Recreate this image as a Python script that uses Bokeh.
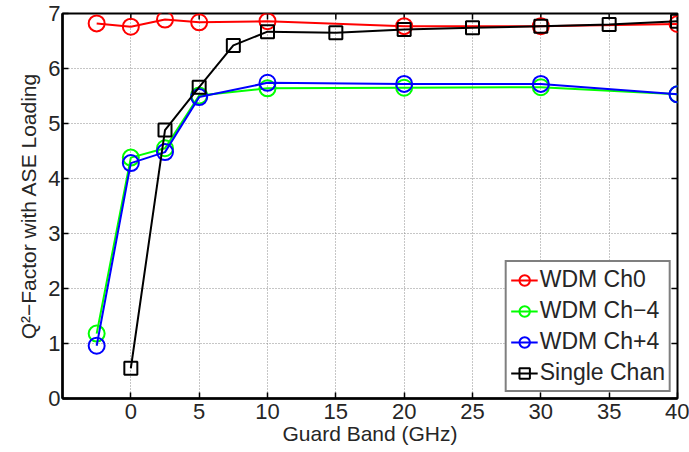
import math
from bokeh.plotting import figure
from bokeh.models import FixedTicker, Range1d, Legend, LegendItem
from bokeh.embed import file_html
from bokeh.resources import INLINE

# Guard band sweep (GHz) and Q^2 factor per channel
gb_wdm = [-2.5, 0, 2.5, 5, 10, 20, 30, 40]
q_ch0 = [6.82, 6.76, 6.89, 6.84, 6.86, 6.77, 6.77, 6.81]
q_ch_m4 = [1.18, 4.38, 4.55, 5.51, 5.64, 5.65, 5.66, 5.53]
q_ch_p4 = [0.96, 4.28, 4.48, 5.48, 5.74, 5.72, 5.72, 5.53]

gb_single = [0, 2.5, 5, 7.5, 10, 15, 20, 25, 30, 35, 40]
q_single = [0.55, 4.88, 5.66, 6.42, 6.67, 6.65, 6.71, 6.74, 6.77, 6.80, 6.86]

x_ticks = [0, 5, 10, 15, 20, 25, 30, 35, 40]
y_ticks = [0, 1, 2, 3, 4, 5, 6, 7]
x_lim = (-5, 40)
y_lim = (0, 7)

FONT = "Liberation Sans"
TXT = "#262626"

p = figure(width=689, height=452, output_backend="svg", toolbar_location=None,
           x_range=Range1d(*x_lim), y_range=Range1d(*y_lim),
           min_border_left=62, min_border_right=12, min_border_top=13,
           min_border_bottom=54)
p.background_fill_color = "white"
p.border_fill_color = "white"
p.outline_line_color = "black"
p.outline_line_width = 2

# main axes
for ax, ticks in ((p.xaxis[0], x_ticks), (p.yaxis[0], y_ticks)):
    ax.ticker = FixedTicker(ticks=ticks)
    ax.axis_line_width = 2.5
    ax.axis_line_color = "black"
    ax.major_tick_in = 6
    ax.major_tick_out = 0
    ax.major_tick_line_width = 1.5
    ax.minor_tick_line_color = None
    ax.major_label_text_font = FONT
    ax.major_label_text_font_size = "22px"
    ax.major_label_text_color = TXT
    ax.axis_label_text_font = FONT
    ax.axis_label_text_font_style = "normal"
    ax.axis_label_text_color = TXT
    ax.axis_label_text_font_size = "21px"

p.xaxis[0].axis_label = "Guard Band (GHz)"
p.xaxis[0].major_label_standoff = 5
p.xaxis[0].axis_label_standoff = 0
p.yaxis[0].axis_label = "Q²−Factor with ASE Loading"
p.yaxis[0].major_label_standoff = 2
p.yaxis[0].axis_label_standoff = 5

# dotted grid
for g in (p.xgrid[0], p.ygrid[0]):
    g.grid_line_color = "#8c8c8c"
    g.grid_line_dash = "1 2"
    g.grid_line_width = 1
p.xgrid[0].ticker = FixedTicker(ticks=x_ticks)
p.ygrid[0].ticker = FixedTicker(ticks=y_ticks)

# inward tick marks mirrored on the top and right frame edges
# (dash markers centred on the edge; the frame clips the outer half)
p.scatter(x_ticks, [y_lim[1]] * len(x_ticks), marker="dash", angle=math.pi / 2,
          size=12, line_color="black", line_width=1.5)
p.scatter([x_lim[1]] * len(y_ticks), y_ticks, marker="dash",
          size=12, line_color="black", line_width=1.5)

series = [
    ("WDM Ch0", gb_wdm, q_ch0, "#ff0000", "circle", 16),
    ("WDM Ch\u22124", gb_wdm, q_ch_m4, "#00ff00", "circle", 16),
    ("WDM Ch+4", gb_wdm, q_ch_p4, "#0000ff", "circle", 16),
    ("Single Chan", gb_single, q_single, "black", "square", 13),
]

items = []
for label, xs, ys, color, marker, size in series:
    ln = p.line(xs, ys, line_color=color, line_width=2)
    mk = p.scatter(xs, ys, marker=marker, size=size, line_color=color,
                   line_width=2, fill_color=None)
    items.append(LegendItem(label=label, renderers=[ln, mk]))

legend = Legend(items=items, location="bottom_right")
legend.label_text_font = FONT
legend.label_text_font_size = "23px"
legend.label_text_color = TXT
legend.border_line_color = "black"
legend.border_line_width = 2
legend.background_fill_color = "white"
legend.background_fill_alpha = 1
legend.glyph_width = 27
legend.glyph_height = 26
legend.spacing = 4
legend.padding = 4
legend.label_standoff = 2
legend.margin = 6
p.add_layout(legend, "center")

open("out.html", "w").write(file_html(p, INLINE))
